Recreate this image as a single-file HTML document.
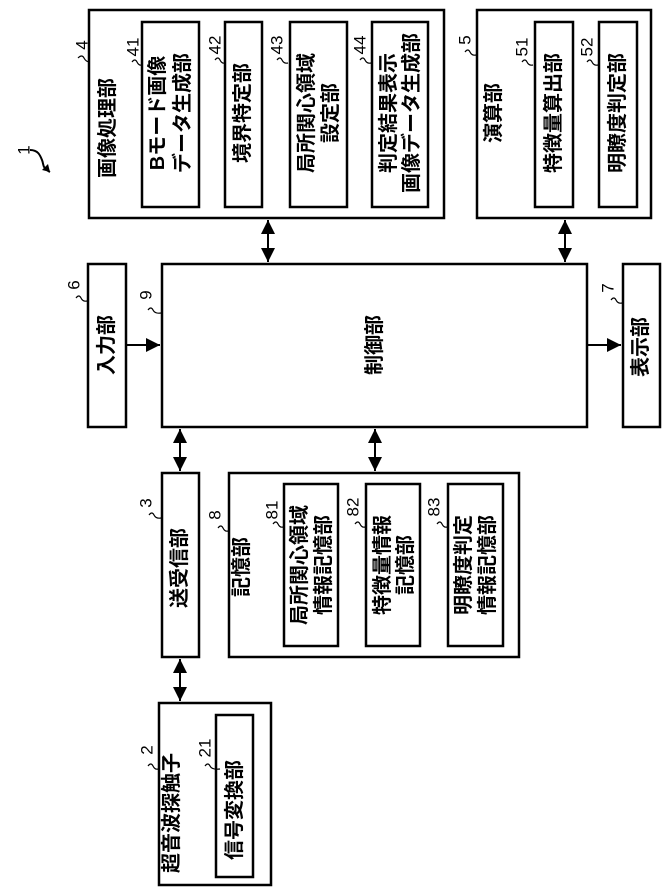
<!DOCTYPE html>
<html><head><meta charset="utf-8"><style>
html,body{margin:0;padding:0;background:#fff}
svg{display:block}
text{font-family:"Liberation Sans","Noto Sans CJK JP",sans-serif;fill:#000}
.t{font-size:20px;font-weight:bold}
.s{font-size:20px;font-weight:bold}
.n{font-size:17px}
</style></head><body>
<svg width="669" height="888" viewBox="0 0 669 888" xmlns="http://www.w3.org/2000/svg">
<defs>
<marker id="a" viewBox="0 0 10 10" refX="10" refY="5" markerWidth="7" markerHeight="7" orient="auto-start-reverse"><path d="M0,0 L10,5 L0,10 z" fill="#000"/></marker>
</defs>
<g fill="none" stroke="#000" stroke-width="2.5">
<rect x="89" y="10" width="355" height="208"/>
<rect x="142" y="22" width="57" height="185"/>
<rect x="225" y="22" width="37" height="185"/>
<rect x="290" y="22" width="57" height="185"/>
<rect x="372" y="22" width="56" height="185"/>
<rect x="477" y="10" width="174" height="208"/>
<rect x="535" y="22" width="38" height="185"/>
<rect x="599" y="22" width="38" height="185"/>
<rect x="162" y="264" width="425" height="163"/>
<rect x="88" y="264" width="38" height="163"/>
<rect x="623" y="264" width="37" height="163"/>
<rect x="162" y="473" width="37" height="184"/>
<rect x="229" y="473" width="290" height="184"/>
<rect x="284" y="484" width="54" height="162"/>
<rect x="366" y="484" width="54" height="162"/>
<rect x="448" y="484" width="55" height="162"/>
<rect x="159" y="703" width="112" height="182"/>
<rect x="216" y="715" width="37" height="162"/>
</g>
<g stroke="#000" stroke-width="2" fill="none">
<line x1="268" y1="220" x2="268" y2="262" marker-start="url(#a)" marker-end="url(#a)"/>
<line x1="565" y1="220" x2="565" y2="262" marker-start="url(#a)" marker-end="url(#a)"/>
<line x1="126" y1="345" x2="160" y2="345" marker-end="url(#a)"/>
<line x1="587" y1="345" x2="621" y2="345" marker-end="url(#a)"/>
<line x1="180" y1="429" x2="180" y2="471" marker-start="url(#a)" marker-end="url(#a)"/>
<line x1="375" y1="429" x2="375" y2="471" marker-start="url(#a)" marker-end="url(#a)"/>
<line x1="180" y1="659" x2="180" y2="701" marker-start="url(#a)" marker-end="url(#a)"/>
<path d="M30,150 c8,0 10,5 12,10 c2,5 0,8 8,12" />
</g>
<path d="M50,172 l-8,-2 l6,-6 z" fill="#000"/>
<g stroke="#000" stroke-width="1.2" fill="none">
<path d="M78,58 q4,-4 6,0 t6,4"/>
<path d="M132,62 q3,-4 5,0 t5,3"/>
<path d="M215,60 q3,-4 5,0 t5,3"/>
<path d="M277,60 q3,-4 5,0 t6,3"/>
<path d="M360,60 q3,-4 5,0 t6,3"/>
<path d="M465,52 q3,-4 5,0 t6,3"/>
<path d="M522,62 q3,-4 5,0 t6,3"/>
<path d="M587,62 q3,-4 5,0 t6,3"/>
<path d="M76,298 q3,-4 5,0 t6,3"/>
<path d="M148,310 q3,-4 5,0 t8,3"/>
<path d="M611,300 q3,-4 5,0 t6,3"/>
<path d="M149,515 q3,-4 5,0 t7,3"/>
<path d="M218,528 q3,-4 5,0 t5,3"/>
<path d="M273,524 q3,-4 5,0 t5,3"/>
<path d="M355,524 q3,-4 5,0 t5,3"/>
<path d="M437,524 q3,-4 5,0 t5,3"/>
<path d="M148,766 q3,-4 5,0 t5,3"/>
<path d="M205,766 q3,-4 5,0 t10,3"/>
</g>
<g class="n">
<text transform="translate(24,150) rotate(-90)" text-anchor="middle" dominant-baseline="central">1</text>
<text transform="translate(82,45) rotate(-90)" text-anchor="middle" dominant-baseline="central">4</text>
<text transform="translate(133,47) rotate(-90)" text-anchor="middle" dominant-baseline="central">41</text>
<text transform="translate(215,45) rotate(-90)" text-anchor="middle" dominant-baseline="central">42</text>
<text transform="translate(277,45) rotate(-90)" text-anchor="middle" dominant-baseline="central">43</text>
<text transform="translate(360,45) rotate(-90)" text-anchor="middle" dominant-baseline="central">44</text>
<text transform="translate(465,40) rotate(-90)" text-anchor="middle" dominant-baseline="central">5</text>
<text transform="translate(522,47) rotate(-90)" text-anchor="middle" dominant-baseline="central">51</text>
<text transform="translate(587,47) rotate(-90)" text-anchor="middle" dominant-baseline="central">52</text>
<text transform="translate(74,285) rotate(-90)" text-anchor="middle" dominant-baseline="central">6</text>
<text transform="translate(146,295) rotate(-90)" text-anchor="middle" dominant-baseline="central">9</text>
<text transform="translate(608,288) rotate(-90)" text-anchor="middle" dominant-baseline="central">7</text>
<text transform="translate(146,503) rotate(-90)" text-anchor="middle" dominant-baseline="central">3</text>
<text transform="translate(215,515) rotate(-90)" text-anchor="middle" dominant-baseline="central">8</text>
<text transform="translate(272,510) rotate(-90)" text-anchor="middle" dominant-baseline="central">81</text>
<text transform="translate(353,507) rotate(-90)" text-anchor="middle" dominant-baseline="central">82</text>
<text transform="translate(434,507) rotate(-90)" text-anchor="middle" dominant-baseline="central">83</text>
<text transform="translate(147,750) rotate(-90)" text-anchor="middle" dominant-baseline="central">2</text>
<text transform="translate(205,748) rotate(-90)" text-anchor="middle" dominant-baseline="central">21</text>
</g>
<g class="t">
<text transform="translate(108,128) rotate(-90)" text-anchor="middle" dominant-baseline="central">画像処理部</text>
<text transform="translate(494,113) rotate(-90)" text-anchor="middle" dominant-baseline="central">演算部</text>
<text transform="translate(375,345) rotate(-90)" text-anchor="middle" dominant-baseline="central">制御部</text>
<text transform="translate(107,345) rotate(-90)" text-anchor="middle" dominant-baseline="central">入力部</text>
<text transform="translate(641,347) rotate(-90)" text-anchor="middle" dominant-baseline="central">表示部</text>
<text transform="translate(180,568) rotate(-90)" text-anchor="middle" dominant-baseline="central">送受信部</text>
<text transform="translate(242,567) rotate(-90)" text-anchor="middle" dominant-baseline="central">記憶部</text>
<text transform="translate(172,813) rotate(-90)" text-anchor="middle" dominant-baseline="central">超音波探触子</text>
</g>
<g class="s">
<text transform="translate(158,113) rotate(-90)" text-anchor="middle" dominant-baseline="central">Bモード画像</text>
<text transform="translate(183,113) rotate(-90)" text-anchor="middle" dominant-baseline="central">データ生成部</text>
<text transform="translate(243,113) rotate(-90)" text-anchor="middle" dominant-baseline="central">境界特定部</text>
<text transform="translate(307,113) rotate(-90)" text-anchor="middle" dominant-baseline="central">局所関心領域</text>
<text transform="translate(331,113) rotate(-90)" text-anchor="middle" dominant-baseline="central">設定部</text>
<text transform="translate(389,113) rotate(-90)" text-anchor="middle" dominant-baseline="central">判定結果表示</text>
<text transform="translate(412,113) rotate(-90)" text-anchor="middle" dominant-baseline="central">画像データ生成部</text>
<text transform="translate(554,113) rotate(-90)" text-anchor="middle" dominant-baseline="central">特徴量算出部</text>
<text transform="translate(618,113) rotate(-90)" text-anchor="middle" dominant-baseline="central">明瞭度判定部</text>
<text transform="translate(300,565) rotate(-90)" text-anchor="middle" dominant-baseline="central">局所関心領域</text>
<text transform="translate(324,565) rotate(-90)" text-anchor="middle" dominant-baseline="central">情報記憶部</text>
<text transform="translate(383,565) rotate(-90)" text-anchor="middle" dominant-baseline="central">特徴量情報</text>
<text transform="translate(406,565) rotate(-90)" text-anchor="middle" dominant-baseline="central">記憶部</text>
<text transform="translate(464,565) rotate(-90)" text-anchor="middle" dominant-baseline="central">明瞭度判定</text>
<text transform="translate(488,565) rotate(-90)" text-anchor="middle" dominant-baseline="central">情報記憶部</text>
<text transform="translate(235,810) rotate(-90)" text-anchor="middle" dominant-baseline="central">信号変換部</text>
</g>
</svg>
</body></html>
